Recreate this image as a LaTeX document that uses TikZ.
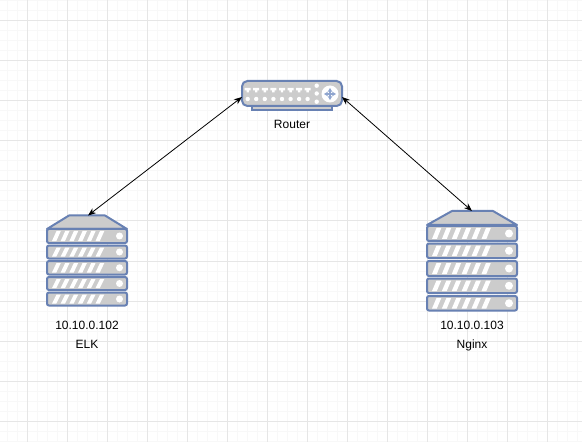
\documentclass[tikz,border=0pt]{standalone}
\usepackage{fontspec}
\setmainfont{Liberation Sans}
\usetikzlibrary{arrows.meta}
\definecolor{stroke}{HTML}{6881B3}
\definecolor{crossblue}{HTML}{8FA5CF}
\definecolor{body}{HTML}{CCCCCC}
\definecolor{gmajor}{HTML}{E6E6E6}
\definecolor{gminor}{HTML}{F8F8F8}
\tikzset{
  unitbox/.style={draw=stroke,fill=body,line width=1.5pt,rounded corners=1.5pt},
  topbox/.style={draw=stroke,fill=body,line width=1.5pt,line join=round},
  stripe/.style={fill=white,draw=none},
  dot/.style={fill=white,draw=none},
  lbl/.style={font=\fontsize{9pt}{10pt}\selectfont,text=black,inner sep=0pt,anchor=base},
  link/.style={draw=black,line width=0.6pt,{Stealth[length=6pt,width=4.6pt]}-{Stealth[length=6pt,width=4.6pt]}},
  crossarrow/.style={draw=crossblue,line width=0.9pt,{Stealth[length=3pt,width=3.5pt,color=crossblue]}-{Stealth[length=3pt,width=3.5pt,color=crossblue]}},
}
% row: left, right, top, bottom, stripe start, stripe period, stripe width, circle x, circle r
\newcommand{\unitrow}[9]{%
  \draw[unitbox] (#1,#3) rectangle (#2,#4);
  \foreach \k in {0,...,5}{
    \fill[stripe] ({#5+\k*#6},#4-2) -- ({#5+\k*#6+#7},#4-2) -- ({#5+\k*#6+#7+4.5},#3+2) -- ({#5+\k*#6+4.5},#3+2) -- cycle;
  }
  \fill[dot] (#8,{(#3+#4)/2}) circle (#9);
}
\begin{document}
\begin{tikzpicture}[x=0.75pt,y=-0.75pt]
\useasboundingbox (0,0) rectangle (582,442);
\fill[white] (0,0) rectangle (582,442);
\foreach \i in {0,...,58}{\draw[gminor,line width=0.75pt] ({7+10*\i},0) -- ({7+10*\i},442);}
\foreach \i in {0,...,44}{\draw[gminor,line width=0.75pt] (0,{1+10*\i}) -- (582,{1+10*\i});}
\foreach \i in {0,...,14}{\draw[gmajor,line width=0.75pt] ({27+40*\i},0) -- ({27+40*\i},442);}
\foreach \i in {0,...,10}{\draw[gmajor,line width=0.75pt] (0,{21+40*\i}) -- (582,{21+40*\i});}

% router
\draw[unitbox,rounded corners=0pt] (252,106) rectangle (332,110);
\draw[unitbox,rounded corners=4pt] (242,81) rectangle (342,106);
\foreach \px in {247.7,256.2,264.8,273.4,282,290.6,299.1,307.6}{
  \fill[dot] (\px-3,88) -- (\px+3,88) -- (\px+3,90.5) -- (\px+1.2,90.5) -- (\px+1.2,92.3) -- (\px-1.2,92.3) -- (\px-1.2,90.5) -- (\px-3,90.5) -- cycle;
  \fill[dot] (\px,99) circle (2.2);
}
\foreach \py in {85.7,93.5,101.7}{\fill[dot] (316.7,\py) circle (2.2);}
\fill[dot] (330,94) circle (8.5);
\draw[crossarrow] (324,94) -- (336,94);
\draw[crossarrow] (330,88) -- (330,100);
\node[lbl] (routerlabel) at (292,129) {Router};
\coordinate (routerW) at (242,97);
\coordinate (routerE) at (342,97);

% ELK
\draw[topbox] (47,229) -- (69,215.5) -- (105,215.5) -- (127,229) -- cycle;
\unitrow{47}{127}{229}{243}{52}{8.7}{4.3}{119.5}{3.5}
\unitrow{47}{127}{245.5}{258.5}{52}{8.7}{4.3}{119.5}{3.5}
\unitrow{47}{127}{261}{274.5}{52}{8.7}{4.3}{119.5}{3.5}
\unitrow{47}{127}{277}{290}{52}{8.7}{4.3}{119.5}{3.5}
\unitrow{47}{127}{292.5}{305.5}{52}{8.7}{4.3}{119.5}{3.5}
\coordinate (elkT) at (88,215.5);
\node[lbl] (elkip) at (87,329) {10.10.0.102};
\node[lbl] (elkname) at (87,348) {ELK};

% Nginx
\draw[topbox] (427,225) -- (452,211) -- (493,211) -- (517,225) -- cycle;
\unitrow{427}{517}{226}{241}{432}{9.9}{4.8}{509}{4}
\unitrow{427}{517}{243.5}{258}{432}{9.9}{4.8}{509}{4}
\unitrow{427}{517}{261}{276}{432}{9.9}{4.8}{509}{4}
\unitrow{427}{517}{278.5}{293}{432}{9.9}{4.8}{509}{4}
\unitrow{427}{517}{296}{310.5}{432}{9.9}{4.8}{509}{4}
\coordinate (ngxT) at (472,211);
\node[lbl] (ngxip) at (472,329) {10.10.0.103};
\node[lbl] (ngxname) at (472,348) {Nginx};

\draw[link] (routerW) -- (elkT);
\draw[link] (routerE) -- (ngxT);
\end{tikzpicture}
\end{document}
